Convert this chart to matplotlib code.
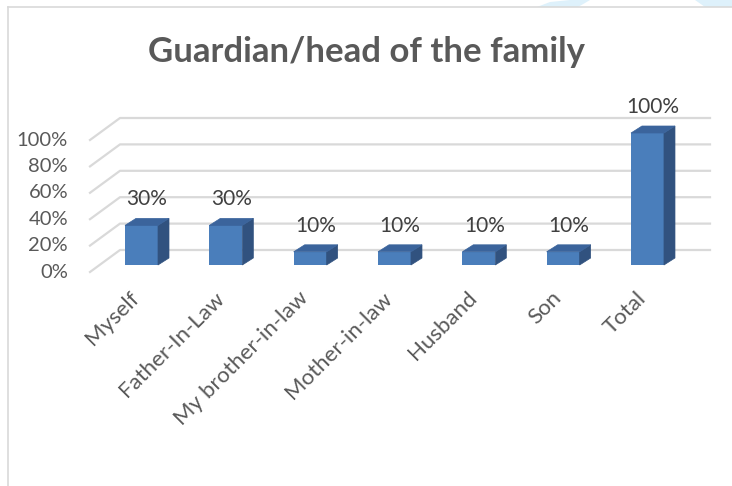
import matplotlib.pyplot as plt
from matplotlib.patches import Polygon

categories = ['Myself', 'Father-In-Law', 'My brother-in-law', 'Mother-in-law',
              'Husband', 'Son', 'Total']
shares = [0.30, 0.30, 0.10, 0.10, 0.10, 0.10, 1.00]
tick_values = [0, 0.2, 0.4, 0.6, 0.8, 1.0]

plt.rcParams['font.family'] = ['Lato', 'DejaVu Sans']
text_col = '#595959'

W, H = 732, 486
fig = plt.figure(figsize=(W / 100, H / 100), dpi=100)

# axes placed in pixels, data limits chosen so bars land where the reference has them
x0px, xstep = 141.5, 84.33
y0px, ystep = 221.0, 132.0
L, R, B, T = 40, 725, 150, 470
ax = fig.add_axes([L / W, B / H, (R - L) / W, (T - B) / H])
ax.set_xlim((L - x0px) / xstep, (R - x0px) / xstep)
ax.set_ylim((B - y0px) / ystep, (T - y0px) / ystep)
ax.axis('off')

def px_x(p):
    return (p - x0px) / xstep

def px_dy(p):
    return p / ystep

# floor / wall gridlines (front diagonal then back wall)
fx, bx, ex = px_x(90), px_x(120), px_x(710)
fy, by = -px_dy(7), px_dy(15)
for v in tick_values:
    ax.plot([fx, bx, ex], [v + fy, v + by, v + by], color='#d9d9d9', lw=1.6,
            clip_on=False, zorder=1)
    ax.text(px_x(68), v + fy, f'{int(round(v * 100))}%', ha='right', va='center',
            fontsize=14.5, color=text_col)

# 3d looking bars
w = 33 / xstep
sx, sy = 11 / xstep, px_dy(7)
xs = range(len(categories))
ax.bar(xs, shares, width=w, color='#4a7ebb', zorder=3)
for x, v in zip(xs, shares):
    r, l = x + w / 2, x - w / 2
    side = Polygon([(r, 0), (r + sx, sy), (r + sx, v + sy), (r, v)],
                   closed=True, facecolor='#31527f', edgecolor='#31527f', lw=0.5, zorder=3)
    top = Polygon([(l, v), (l + sx, v + sy), (r + sx, v + sy), (r, v)],
                  closed=True, facecolor='#3b649c', edgecolor='#3b649c', lw=0.5, zorder=3)
    ax.add_patch(side)
    ax.add_patch(top)
    ax.text(x + sx / 2, v + px_dy(26), f'{int(round(v * 100))}%', ha='center',
            va='center', fontsize=15, color='#404040')

# category labels
for x, c in zip(xs, categories):
    ax.text(x - 0.06, -px_dy(30), c, rotation=45, rotation_mode='anchor',
            ha='right', va='center', fontsize=16, color=text_col)

fig.text(367 / W, 1 - 62 / H, 'Guardian/head of the family', ha='center', va='baseline',
         fontsize=25, fontweight='bold', color=text_col)

# light blue scraps above the frame (page background)
for pts in ([(537, 7), (550, 2), (570, 0), (590, 0), (585, 3), (578, 7)],
            [(695, 0), (732, 0), (732, 7), (705, 7)]):
    fig.add_artist(Polygon([(px / W, 1 - py / H) for px, py in pts], closed=True,
                           transform=fig.transFigure, facecolor='#def1fb', edgecolor='none'))

# chart frame
fig.add_artist(plt.Line2D([8 / W, 8 / W], [0, 1 - 7 / H], color='#d9d9d9', lw=1.2))
fig.add_artist(plt.Line2D([8 / W, 1], [1 - 7 / H, 1 - 7 / H], color='#d9d9d9', lw=1.2))

fig.savefig('out.png', dpi=100)
